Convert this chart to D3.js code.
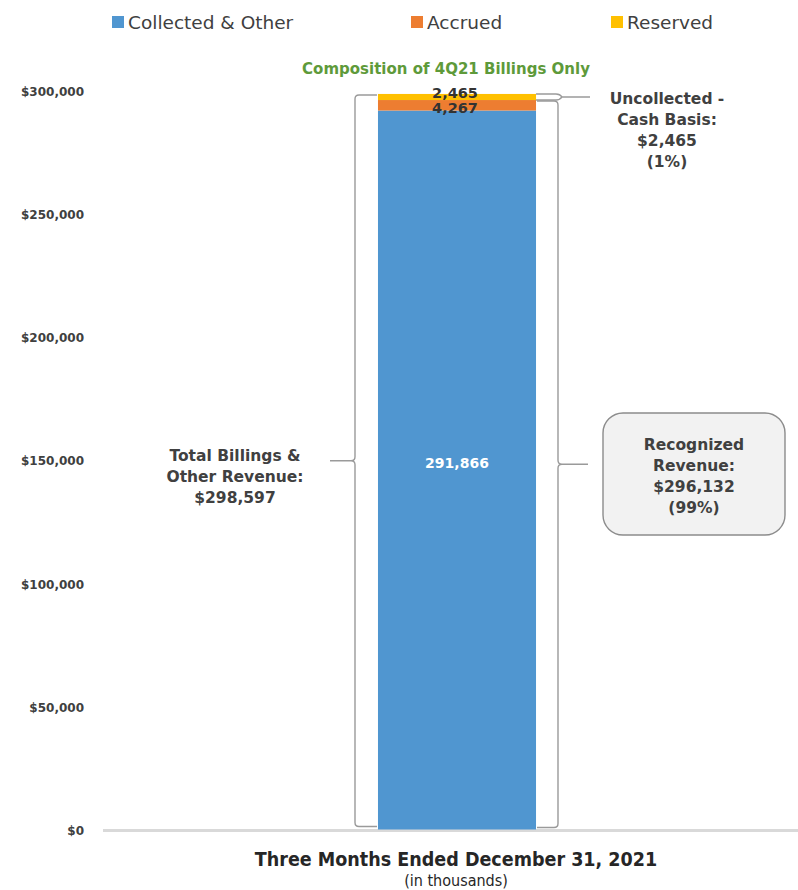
<!DOCTYPE html>
<html>
<head>
<meta charset="utf-8">
<script src="https://cdn.jsdelivr.net/npm/d3@7"></script>
<style>
  html, body { margin: 0; padding: 0; background: #fff; }
  svg { display: block; }
</style>
</head>
<body>
<svg id="chart" width="798" height="890"></svg>
<script>
// Billings composition for the quarter (in thousands)
const categories = ["Three Months Ended December 31, 2021"];
const seriesNames = ["Collected & Other", "Accrued", "Reserved"];
const seriesValues = [291866, 4267, 2465];
const seriesColors = ["#5096d0", "#ed7d31", "#ffc000"];
const yTicks = [0, 50000, 100000, 150000, 200000, 250000, 300000];

const totalLabel = ["Total Billings &", "Other Revenue:", "$298,597"];
const recognizedLabel = ["Recognized", "Revenue:", "$296,132", "(99%)"];
const uncollectedLabel = ["Uncollected -", "Cash Basis:", "$2,465", "(1%)"];
const compositionTitle = "Composition of 4Q21 Billings Only";
const subTitle = "(in thousands)";

const svg = d3.select("#chart");
const labelFont = "'DejaVu Sans', Verdana, sans-serif";
const narrowFont = "'DejaVu Sans Condensed', 'DejaVu Sans', sans-serif";
const textColor = "#404040";

const y = d3.scaleLinear().domain([0, 300000]).range([829.5, 90.5]);
const x = d3.scaleBand().domain(categories).range([103, 811])
  .paddingInner(0).paddingOuter(1.74);

// stacked data
const row = { cat: categories[0] };
seriesNames.forEach((n, i) => row[n] = seriesValues[i]);
const stack = d3.stack().keys(seriesNames)([row]);

// y axis labels
const yAxis = d3.axisLeft(y).tickValues(yTicks)
  .tickFormat(d => "$" + d3.format(",")(d)).tickSize(0).tickPadding(0);
const yg = svg.append("g").attr("transform", "translate(84,1)").call(yAxis);
yg.select(".domain").remove();
yg.selectAll("text")
  .attr("fill", textColor)
  .style("font-family", labelFont)
  .style("font-weight", "bold")
  .style("font-size", "12px");

// baseline
svg.append("line")
  .attr("x1", 103).attr("x2", 798)
  .attr("y1", y(0) + 1).attr("y2", y(0) + 1)
  .attr("stroke", "#d9d9d9").attr("stroke-width", 3);

// bars
svg.append("g").selectAll("rect")
  .data(stack).join("rect")
  .attr("x", d => x(d[0].data.cat))
  .attr("width", x.bandwidth())
  .attr("y", d => y(d[0][1]))
  .attr("height", d => y(d[0][0]) - y(d[0][1]))
  .attr("fill", (d, i) => seriesColors[i]);

const barL = x(categories[0]);
const barR = barL + x.bandwidth();
const barC = barL + x.bandwidth() / 2;
const total = d3.sum(seriesValues);
const recognized = seriesValues[0] + seriesValues[1];

// brace path: vertical at bx spanning y0..y1, ends curl toward ex, tip points toward tx
function brace(bx, ex, y0, y1, tx) {
  const m = (y0 + y1) / 2;
  const s = Math.sign(ex - bx);
  const t = Math.sign(tx - bx);
  const r = 4;
  return `M${ex},${y0} L${bx + s * r},${y0} Q${bx},${y0} ${bx},${y0 + r}` +
    ` L${bx},${m - r} Q${bx},${m} ${bx + t * r},${m} L${tx},${m}` +
    ` M${bx + t * r},${m} Q${bx},${m} ${bx},${m + r}` +
    ` L${bx},${y1 - r} Q${bx},${y1} ${bx + s * r},${y1} L${ex},${y1}`;
}

const braceG = svg.append("g").attr("fill", "none")
  .attr("stroke", "#9a9a9a").attr("stroke-width", 1.4);
// total billings (left)
braceG.append("path").attr("d", brace(355, barL - 1, y(total) + 1, y(0) - 3, 330));
// recognized revenue (right)
braceG.append("path").attr("d", brace(558, barR + 1, y(recognized) + 1, y(0) - 2, 588));
// reserved slice (small, right)
{
  const y0 = y(total), y1 = y(recognized), m = (y0 + y1) / 2;
  braceG.append("path").attr("d",
    `M${barR},${y0} L${barR + 20},${y0} Q${barR + 24},${y0} ${barR + 26},${m} L${590},${m}` +
    ` M${barR + 26},${m} Q${barR + 24},${y1} ${barR + 20},${y1} L${barR},${y1}`);
}

// segment value labels
svg.append("text").attr("x", barC).attr("y", (y(0) + y(seriesValues[0])) / 2 - 2)
  .attr("text-anchor", "middle").attr("fill", "#fff")
  .style("font-family", labelFont).style("font-weight", "bold").style("font-size", "14px")
  .text(d3.format(",")(seriesValues[0]));
svg.append("text").attr("x", barC - 2).attr("y", y(total) + 4)
  .attr("text-anchor", "middle").attr("fill", "#333")
  .style("font-family", labelFont).style("font-weight", "bold").style("font-size", "14.5px")
  .text(d3.format(",")(seriesValues[2]));
svg.append("text").attr("x", barC - 2).attr("y", y(total) + 19)
  .attr("text-anchor", "middle").attr("fill", "#333")
  .style("font-family", labelFont).style("font-weight", "bold").style("font-size", "14.5px")
  .text(d3.format(",")(seriesValues[1]));

// composition title
svg.append("text").attr("x", 446).attr("y", 74)
  .attr("text-anchor", "middle").attr("fill", "#5e9a3a")
  .style("font-family", labelFont).style("font-weight", "bold").style("font-size", "15px")
  .text(compositionTitle);

function multiline(lines, cx, y0, dy, size) {
  const t = svg.append("text").attr("text-anchor", "middle").attr("fill", textColor)
    .style("font-family", labelFont).style("font-weight", "bold").style("font-size", size + "px");
  lines.forEach((l, i) => t.append("tspan").attr("x", cx).attr("y", y0 + i * dy).text(l));
}

multiline(totalLabel, 235, 461, 21, 15.5);
multiline(uncollectedLabel, 667, 104, 21, 15.5);

// recognized revenue callout box
svg.append("rect").attr("x", 603).attr("y", 413).attr("width", 182).attr("height", 122)
  .attr("rx", 20).attr("fill", "#f2f2f2").attr("stroke", "#8c8c8c").attr("stroke-width", 1.4);
multiline(recognizedLabel, 694, 450, 21, 15.5);

// legend
const lg = svg.append("g");
const legendX = [112, 411, 611];
seriesNames.forEach((n, i) => {
  lg.append("rect").attr("x", legendX[i]).attr("y", 16).attr("width", 12).attr("height", 12)
    .attr("fill", seriesColors[i]);
  lg.append("text").attr("x", legendX[i] + 16).attr("y", 29).attr("fill", textColor)
    .style("font-family", labelFont).style("font-size", "18.5px").text(n);
});

// category axis title
svg.append("text").attr("x", 456).attr("y", 866)
  .attr("text-anchor", "middle").attr("fill", "#262626")
  .style("font-family", narrowFont).style("font-weight", "bold").style("font-size", "19.5px")
  .text(categories[0]);
svg.append("text").attr("x", 456).attr("y", 886)
  .attr("text-anchor", "middle").attr("fill", "#262626")
  .style("font-family", narrowFont).style("font-size", "16px")
  .text(subTitle);
</script>
</body>
</html>
